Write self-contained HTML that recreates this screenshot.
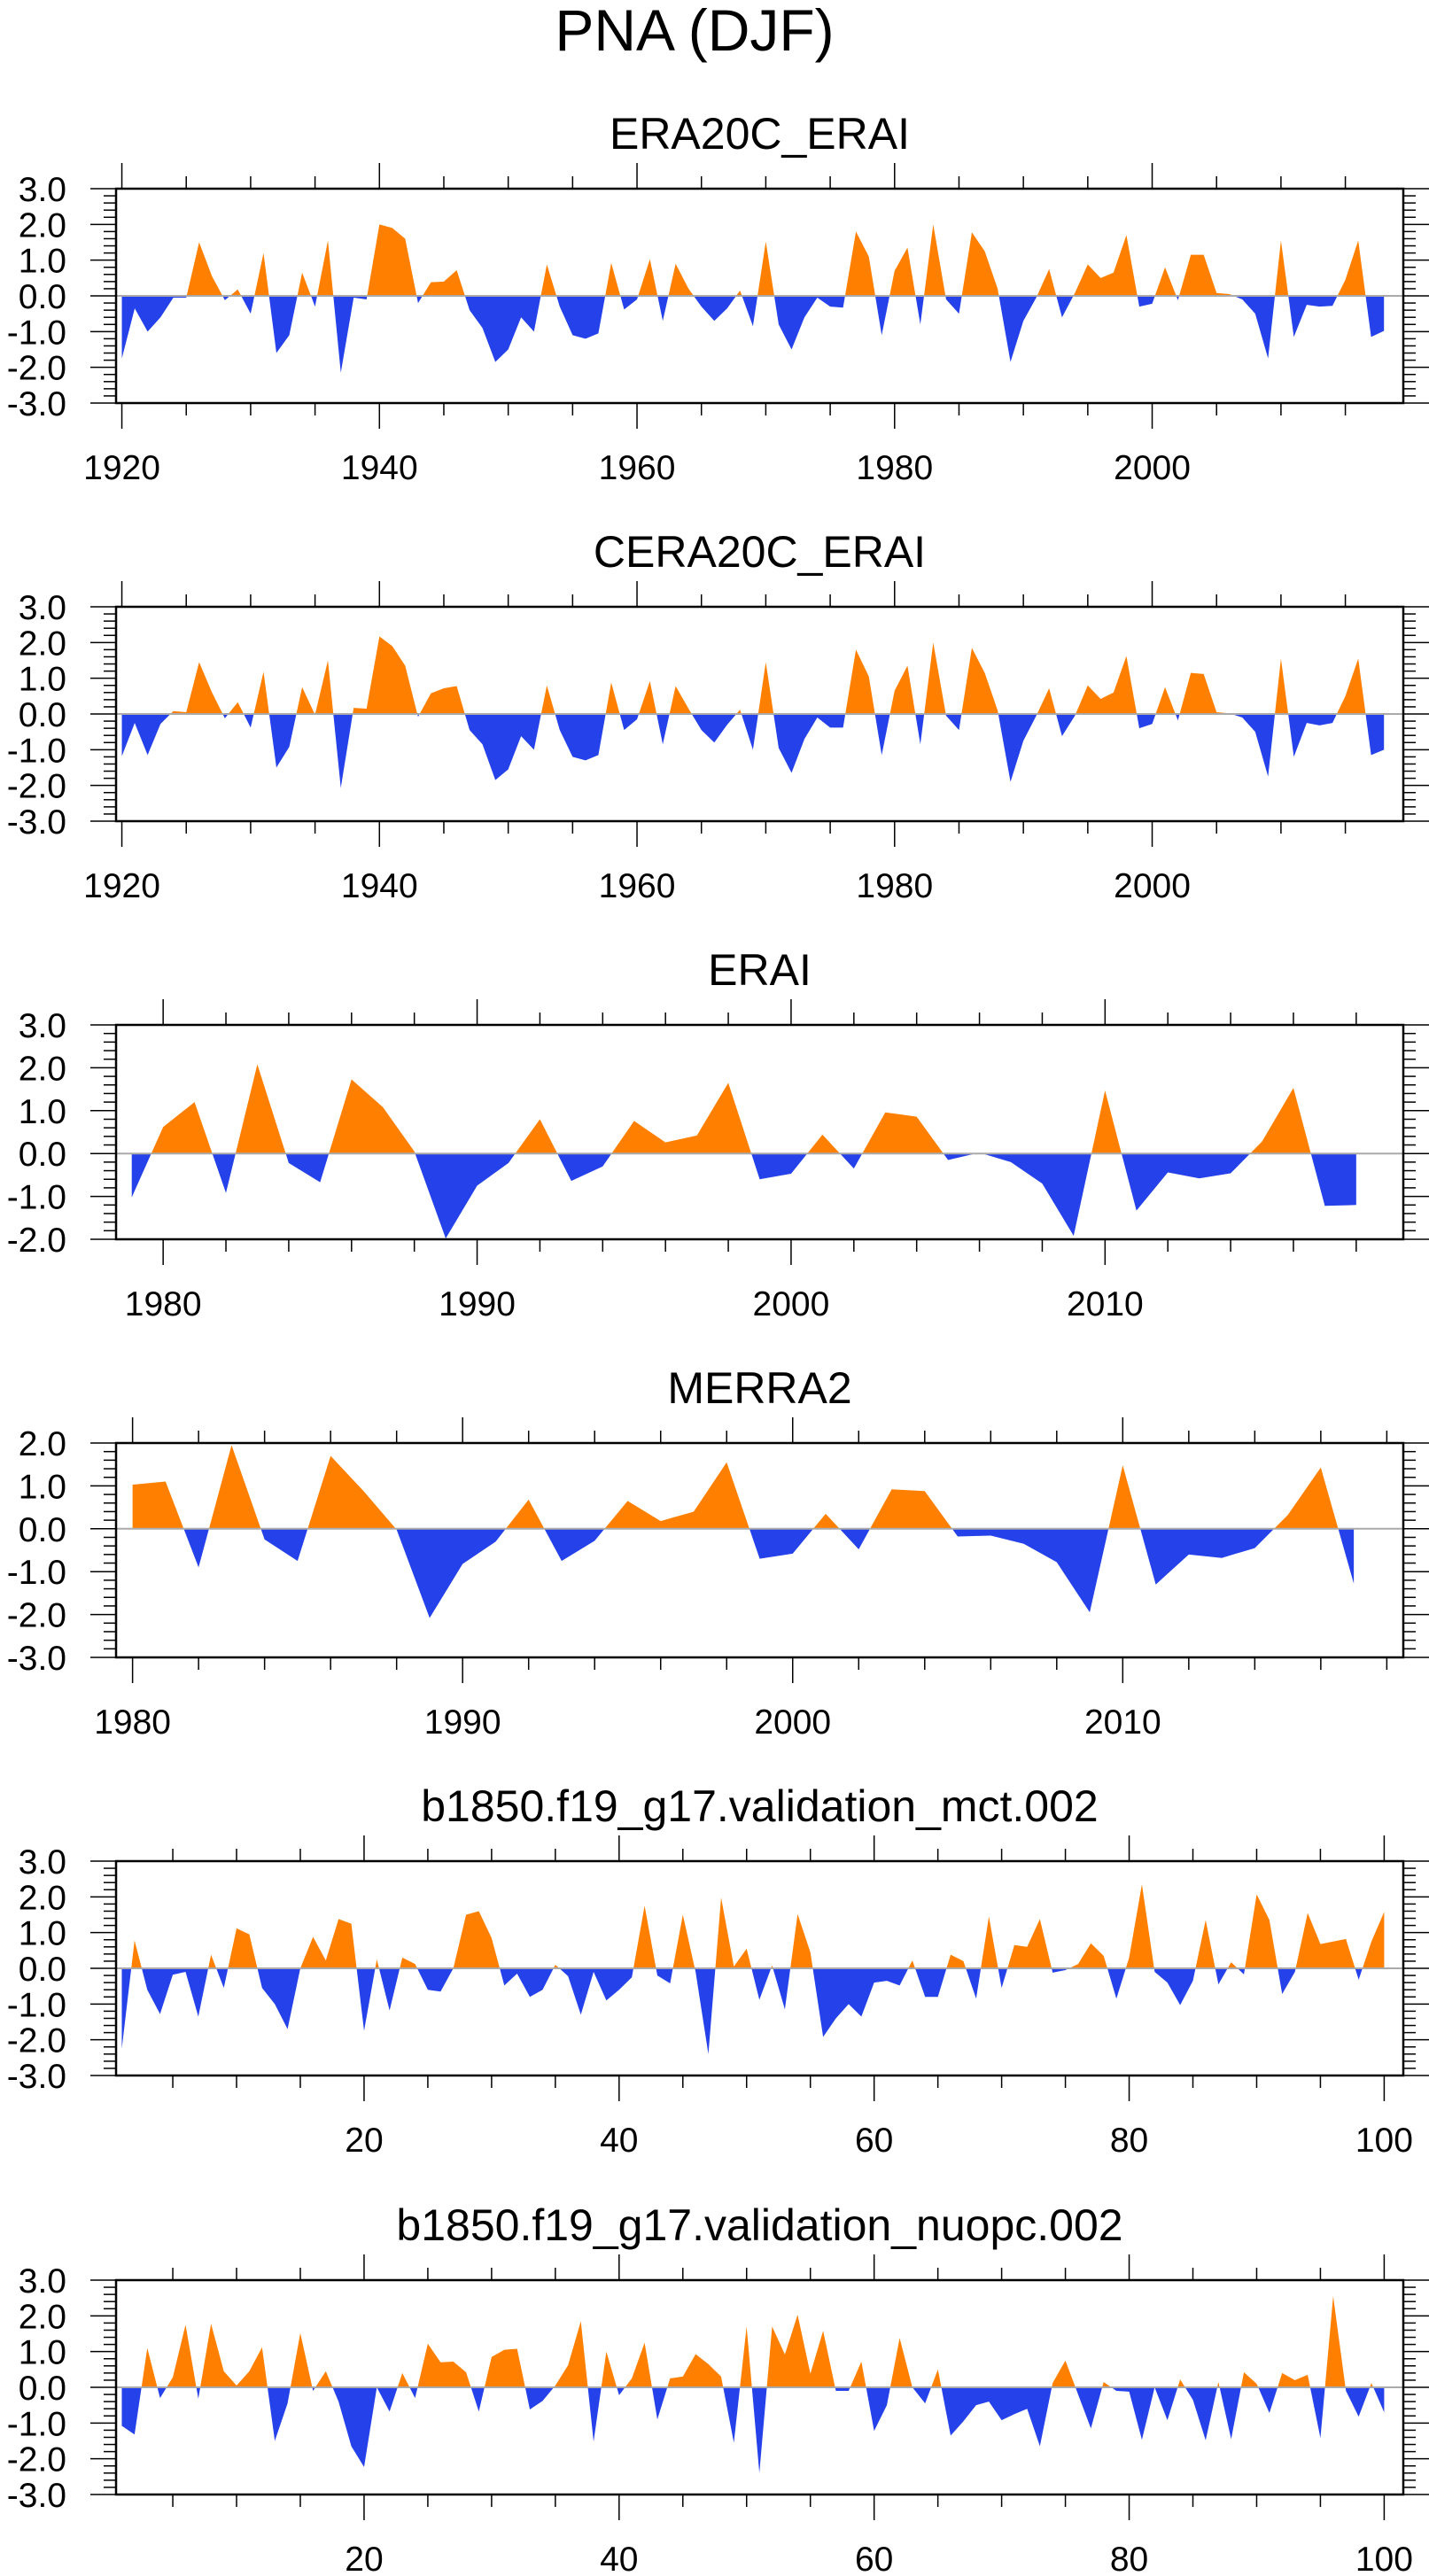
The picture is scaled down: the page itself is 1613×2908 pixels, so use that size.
<!DOCTYPE html>
<html><head><meta charset="utf-8"><style>
html,body{margin:0;padding:0;background:#fff;}
svg{display:block;font-family:"Liberation Sans",sans-serif;}
</style></head><body>
<svg id="chart" width="1613" height="2908" viewBox="0 0 1613 2908" xmlns="http://www.w3.org/2000/svg">
<text x="784" y="57" font-size="66" text-anchor="middle">PNA (DJF)</text>
</svg>
<script>
const era20cYears0 = 1920;
const era20cValues = [-1.75,-0.35,-1.0,-0.6,-0.05,-0.05,1.5,0.55,-0.12,0.18,-0.5,1.2,-1.6,-1.1,0.65,-0.3,1.55,-2.15,-0.05,-0.1,2.0,1.9,1.6,-0.2,0.38,0.4,0.72,-0.4,-0.9,-1.85,-1.5,-0.6,-1.0,0.88,-0.3,-1.1,-1.2,-1.05,0.92,-0.38,-0.1,1.03,-0.7,0.9,0.2,-0.3,-0.7,-0.35,0.15,-0.85,1.52,-0.8,-1.5,-0.6,-0.05,-0.3,-0.33,1.8,1.1,-1.1,0.7,1.35,-0.8,2.0,-0.1,-0.5,1.78,1.25,0.2,-1.85,-0.7,-0.05,0.75,-0.6,0.08,0.88,0.5,0.65,1.7,-0.3,-0.22,0.8,-0.12,1.15,1.15,0.08,0.05,-0.1,-0.5,-1.75,1.55,-1.15,-0.25,-0.3,-0.28,0.45,1.55,-1.15,-0.98];
const cera20cValues = [-1.18,-0.25,-1.15,-0.28,0.08,0.05,1.45,0.6,-0.12,0.33,-0.38,1.18,-1.5,-0.92,0.75,-0.02,1.5,-2.07,0.17,0.15,2.17,1.9,1.35,-0.08,0.58,0.72,0.78,-0.45,-0.85,-1.85,-1.55,-0.62,-1.0,0.8,-0.45,-1.2,-1.3,-1.15,0.88,-0.45,-0.15,0.92,-0.85,0.78,0.15,-0.45,-0.8,-0.3,0.12,-1.0,1.45,-0.95,-1.65,-0.7,-0.1,-0.38,-0.38,1.8,1.05,-1.15,0.65,1.35,-0.85,2.0,-0.05,-0.45,1.85,1.15,0.1,-1.9,-0.75,-0.05,0.72,-0.62,-0.05,0.8,0.42,0.6,1.62,-0.4,-0.28,0.75,-0.18,1.15,1.12,0.05,0.02,-0.1,-0.5,-1.75,1.55,-1.2,-0.25,-0.32,-0.25,0.5,1.55,-1.15,-1.0];
const eraiYears0 = 1979;
const eraiValues = [-1.02,0.62,1.2,-0.92,2.08,-0.22,-0.67,1.73,1.08,0.05,-1.98,-0.75,-0.22,0.8,-0.64,-0.3,0.76,0.26,0.42,1.65,-0.6,-0.47,0.44,-0.35,0.96,0.86,-0.15,0.02,-0.2,-0.7,-1.92,1.47,-1.33,-0.44,-0.58,-0.46,0.28,1.53,-1.22,-1.2];
const merraYears0 = 1980;
const merraValues = [1.03,1.1,-0.9,1.95,-0.25,-0.75,1.7,0.88,-0.02,-2.08,-0.82,-0.3,0.68,-0.75,-0.28,0.65,0.18,0.4,1.55,-0.7,-0.58,0.35,-0.48,0.92,0.88,-0.18,-0.16,-0.35,-0.78,-1.95,1.48,-1.3,-0.6,-0.68,-0.45,0.32,1.43,-1.28];
const mctYears0 = 1;
const mctValues = [-2.25,0.78,-0.6,-1.28,-0.18,-0.1,-1.35,0.38,-0.55,1.12,0.95,-0.55,-1.0,-1.7,0.0,0.88,0.22,1.38,1.25,-1.75,0.25,-1.18,0.3,0.12,-0.6,-0.65,0.0,1.5,1.6,0.85,-0.48,-0.15,-0.8,-0.6,0.1,-0.22,-1.3,-0.1,-0.9,-0.6,-0.25,1.75,-0.2,-0.42,1.5,-0.1,-2.4,1.98,0.05,0.55,-0.88,0.08,-1.15,1.52,0.45,-1.92,-1.4,-1.0,-1.35,-0.4,-0.35,-0.48,0.22,-0.8,-0.8,0.38,0.2,-0.85,1.45,-0.55,0.65,0.6,1.38,-0.12,-0.05,0.12,0.7,0.35,-0.85,0.3,2.35,-0.1,-0.4,-1.03,-0.35,1.35,-0.45,0.17,-0.17,2.07,1.35,-0.72,-0.1,1.55,0.68,0.75,0.82,-0.32,0.75,1.58];
const nuopcYears0 = 1;
const nuopcValues = [-1.08,-1.32,1.1,-0.3,0.28,1.75,-0.32,1.78,0.45,0.05,0.45,1.12,-1.5,-0.45,1.52,-0.1,0.45,-0.4,-1.65,-2.23,0.0,-0.68,0.4,-0.3,1.22,0.7,0.72,0.42,-0.68,0.85,1.05,1.08,-0.62,-0.38,0.05,0.62,1.85,-1.52,1.0,-0.22,0.25,1.25,-0.9,0.25,0.3,0.93,0.65,0.3,-1.55,1.7,-2.4,1.7,0.92,2.03,0.38,1.58,-0.1,-0.1,0.72,-1.22,-0.5,1.38,0.0,-0.45,0.5,-1.35,-0.95,-0.5,-0.4,-0.92,-0.75,-0.6,-1.65,0.12,0.75,-0.2,-1.15,0.15,-0.1,-0.12,-1.47,0.0,-0.92,0.22,-0.35,-1.48,0.15,-1.45,0.42,0.1,-0.72,0.4,0.2,0.35,-1.42,2.55,-0.1,-0.82,0.12,-0.7];
const panelTitles = ["ERA20C_ERAI","CERA20C_ERAI","ERAI","MERRA2","b1850.f19_g17.validation_mct.002","b1850.f19_g17.validation_nuopc.002"];

const NS = "http://www.w3.org/2000/svg";
const svg = document.getElementById("chart");
function mk(tag, attrs, parent){const e=document.createElementNS(NS,tag);for(const k in attrs)e.setAttribute(k,attrs[k]);(parent||svg).appendChild(e);return e;}

const L=131, R=1584, H=242;
const panels = [
 {top:213,x0:1919.55,x1:2019.5,y0:-3,y1:3,maj:20,min:5,start:era20cYears0,vals:era20cValues,slug:"era20c-erai"},
 {top:685,x0:1919.55,x1:2019.5,y0:-3,y1:3,maj:20,min:5,start:era20cYears0,vals:cera20cValues,slug:"cera20c-erai"},
 {top:1157,x0:1978.5,x1:2019.5,y0:-2,y1:3,maj:10,min:2,start:eraiYears0,vals:eraiValues,slug:"erai"},
 {top:1629,x0:1979.5,x1:2018.5,y0:-3,y1:2,maj:10,min:2,start:merraYears0,vals:merraValues,slug:"merra2"},
 {top:2101,x0:0.55,x1:101.5,y0:-3,y1:3,maj:20,min:5,start:mctYears0,vals:mctValues,slug:"mct"},
 {top:2574,x0:0.55,x1:101.5,y0:-3,y1:3,maj:20,min:5,start:nuopcYears0,vals:nuopcValues,slug:"nuopc"}
];

panels.forEach((p,pi)=>{
  const g = mk("g",{});
  
  
  const sx = v => L + (v-p.x0)/(p.x1-p.x0)*(R-L);
  const sy = v => p.top + (p.y1-v)/(p.y1-p.y0)*H;
  const t = mk("text",{x:(L+R)/2,y:p.top-45,"font-size":50,"text-anchor":"middle"},g);
  
  
  t.textContent = panelTitles[pi];
  const zy = sy(0);
  let d = "M"+sx(p.start).toFixed(2)+","+zy.toFixed(2);
  p.vals.forEach((v,i)=>{ d += "L"+sx(p.start+i).toFixed(2)+","+sy(v).toFixed(2); });
  d += "L"+sx(p.start+p.vals.length-1).toFixed(2)+","+zy.toFixed(2)+"Z";
  const cidA="ca"+pi, cidB="cb"+pi;
  const defs = mk("defs",{},g);
  const c1 = mk("clipPath",{id:cidA},defs); mk("rect",{x:L,y:p.top,width:R-L,height:zy-p.top},c1);
  const c2 = mk("clipPath",{id:cidB},defs); mk("rect",{x:L,y:zy,width:R-L,height:p.top+H-zy},c2);
  const pos = mk("path",{d:d,fill:"#ff8000","clip-path":"url(#"+cidA+")"},g);
  
  
  const neg = mk("path",{d:d,fill:"#2541ea","clip-path":"url(#"+cidB+")"},g);
  
  
  const zl = mk("line",{x1:L,x2:R,y1:zy,y2:zy,stroke:"#aaaaaa","stroke-width":2},g);
  
  
  const first = Math.ceil(p.x0/p.min)*p.min;
  for(let v=first; v<=p.x1; v+=p.min){
    const x=sx(v); const major = Math.abs(v/p.maj-Math.round(v/p.maj))<1e-6;
    const len = major?29:14;
    mk("line",{x1:x,x2:x,y1:p.top,y2:p.top-len,stroke:"#000","stroke-width":1.5},g);
    mk("line",{x1:x,x2:x,y1:p.top+H,y2:p.top+H+len,stroke:"#000","stroke-width":1.5},g);
    if(major){
      const tl = mk("text",{x:x,y:p.top+H+86,"font-size":39,"text-anchor":"middle"},g);
      
      
      tl.textContent = String(Math.round(v));
    }
  }
  for(let k=Math.round(p.y0*5); k<=Math.round(p.y1*5); k++){
    const v=k/5, y=sy(v), major = k%5===0, len = major?29:14;
    mk("line",{x1:L,x2:L-len,y1:y,y2:y,stroke:"#000","stroke-width":1.5},g);
    mk("line",{x1:R,x2:R+len,y1:y,y2:y,stroke:"#000","stroke-width":1.5},g);
    if(major){
      const yl = mk("text",{x:75,y:y+14,"font-size":39,"text-anchor":"end"},g);
      
      
      yl.textContent = v.toFixed(1);
    }
  }
  const fr = mk("rect",{x:L,y:p.top,width:R-L,height:H,fill:"none",stroke:"#000","stroke-width":2.5},g);
  
  
});
</script>
</body></html>
